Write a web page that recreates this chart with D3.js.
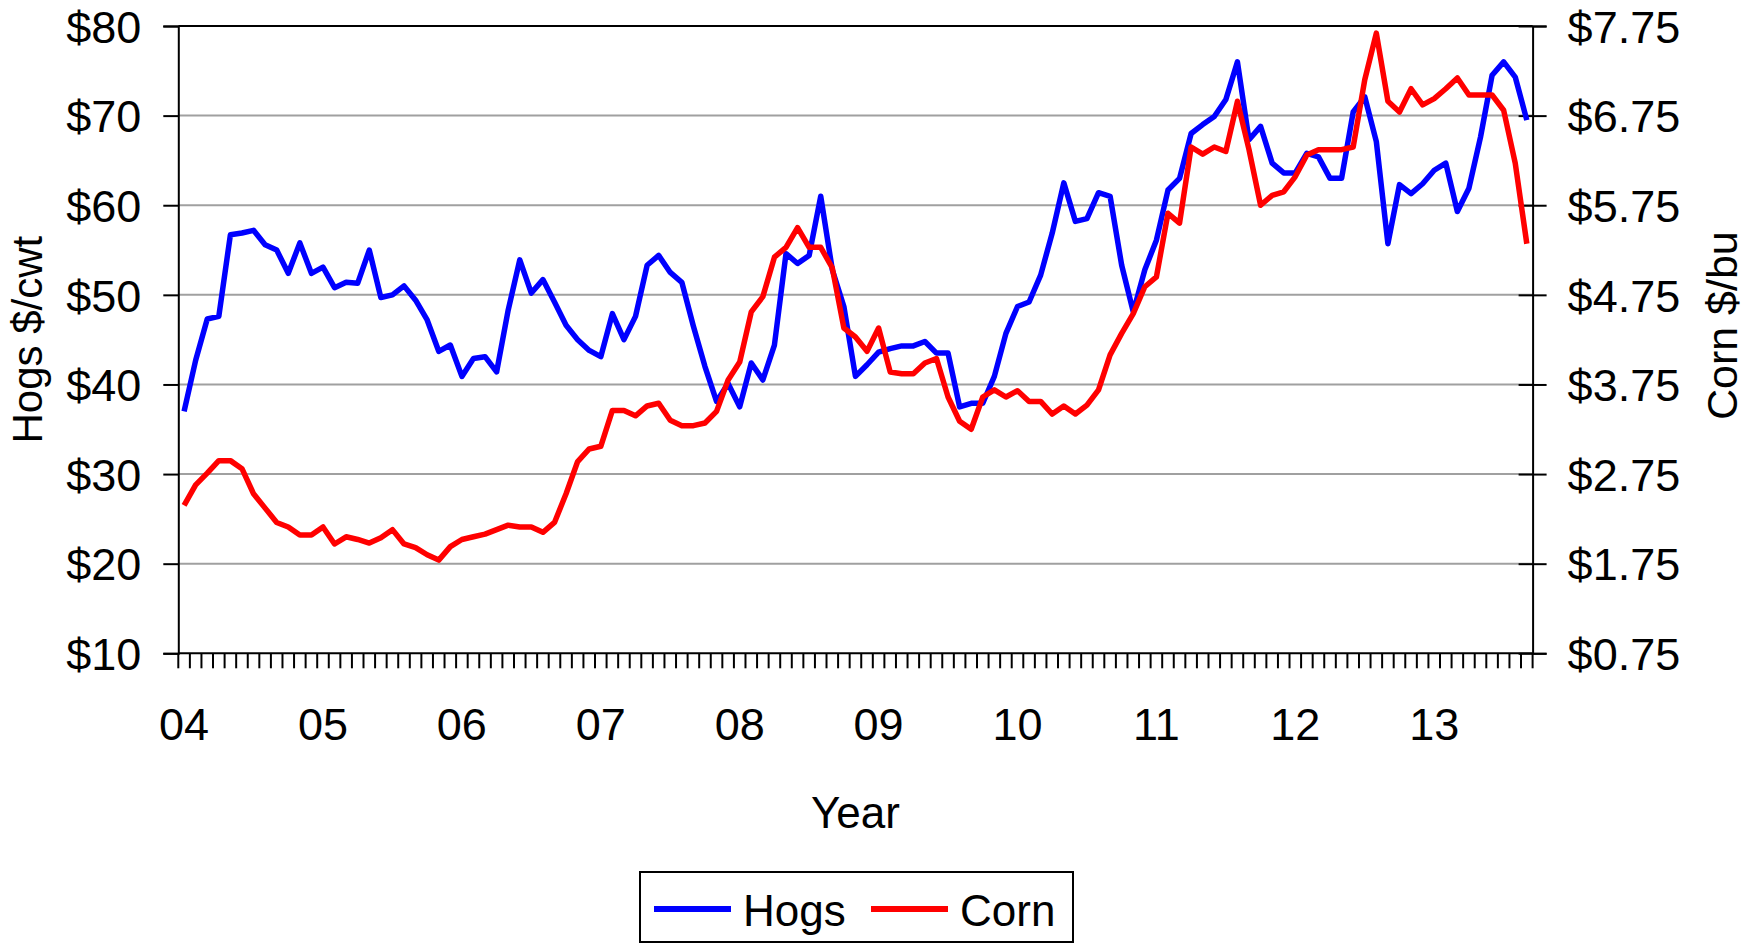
<!DOCTYPE html>
<html>
<head>
<meta charset="utf-8">
<script src="https://cdn.jsdelivr.net/npm/d3@7"></script>
<style>
  body { margin: 0; background: #fff; }
  svg text { font-family: "Liberation Sans", Arial, sans-serif; fill: #000; }
</style>
</head>
<body>
<svg id="chart" width="1758" height="944"></svg>
<script>
// monthly prices, Jan 2004 - Sep 2013
const hogs = [
  37.0, 42.7, 47.3, 47.6, 56.7, 56.9, 57.2, 55.6, 55.0, 52.4,
  55.8, 52.4, 53.1, 50.8, 51.4, 51.3, 55.0, 49.7, 50.0, 51.0,
  49.4, 47.2, 43.7, 44.4, 40.9, 42.9, 43.1, 41.4, 48.3, 53.9,
  50.2, 51.7, 49.2, 46.6, 45.0, 43.8, 43.1, 47.9, 45.0, 47.6,
  53.3, 54.4, 52.5, 51.4, 46.5, 42.0, 38.1, 40.1, 37.5, 42.4,
  40.5, 44.4, 54.6, 53.5, 54.4, 61.0, 52.8, 48.7, 40.9, 42.2,
  43.6, 44.0, 44.3, 44.3, 44.8, 43.5, 43.5, 37.5, 37.9, 37.9,
  40.9, 45.7, 48.7, 49.2, 52.2, 56.9, 62.5, 58.2, 58.5, 61.4,
  61.0, 53.3, 48.1, 52.8, 56.1, 61.7, 63.0, 68.0, 69.0, 69.9,
  71.8, 76.0, 67.3, 68.8, 64.7, 63.6, 63.6, 65.8, 65.4, 63.0,
  63.0, 70.4, 72.1, 67.1, 55.7, 62.3, 61.3, 62.4, 63.9, 64.7,
  59.3, 61.9, 67.6, 74.5, 76.0, 74.3, 69.5
];
const corn = [
  2.40, 2.63, 2.76, 2.90, 2.90, 2.81, 2.53, 2.37, 2.21, 2.16,
  2.07, 2.07, 2.16, 1.97, 2.05, 2.02, 1.98, 2.04, 2.13, 1.97,
  1.93, 1.85, 1.79, 1.94, 2.02, 2.05, 2.08, 2.13, 2.18, 2.16,
  2.16, 2.10, 2.21, 2.53, 2.89, 3.03, 3.06, 3.46, 3.46, 3.40,
  3.51, 3.54, 3.35, 3.29, 3.29, 3.32, 3.45, 3.80, 4.00, 4.56,
  4.73, 5.17, 5.28, 5.50, 5.28, 5.28, 5.05, 4.38, 4.28, 4.12,
  4.38, 3.89, 3.87, 3.87, 3.99, 4.04, 3.61, 3.34, 3.25, 3.61,
  3.69, 3.61, 3.68, 3.56, 3.56, 3.42, 3.51, 3.42, 3.52, 3.69,
  4.08, 4.32, 4.54, 4.84, 4.95, 5.66, 5.55, 6.40, 6.32, 6.40,
  6.35, 6.91, 6.37, 5.75, 5.86, 5.90, 6.07, 6.31, 6.37, 6.37,
  6.37, 6.40, 7.15, 7.67, 6.91, 6.79, 7.05, 6.87, 6.94, 7.05,
  7.17, 6.98, 6.98, 6.98, 6.81, 6.22, 5.32
];
const hogTicks = [10, 20, 30, 40, 50, 60, 70, 80];
const cornTicks = [0.75, 1.75, 2.75, 3.75, 4.75, 5.75, 6.75, 7.75];
const seriesNames = ['Hogs', 'Corn'];
const seriesColors = ['#0000ff', '#ff0000'];

const months = d3.timeMonth.range(new Date(2004, 0, 1), new Date(2013, 9, 1));

const margin = { top: 26, right: 225.4, bottom: 290.7, left: 178.3 };
const W = 1758, H = 944;
const plotW = W - margin.left - margin.right;
const plotH = H - margin.top - margin.bottom;

const svg = d3.select('#chart');
const g = svg.append('g').attr('transform', `translate(${margin.left},${margin.top})`);

const x = d3.scaleBand().domain(months).range([0, plotW]).paddingInner(0).paddingOuter(0);
const yL = d3.scaleLinear().domain([10, 80]).range([plotH, 0]);
const yR = d3.scaleLinear().domain([0.75, 7.75]).range([plotH, 0]);
const cx = d => x(d) + x.bandwidth() / 2;

// gridlines
g.selectAll('.grid').data(hogTicks.slice(1, -1)).enter().append('line')
  .attr('x1', 0).attr('x2', plotW)
  .attr('y1', d => yL(d)).attr('y2', d => yL(d))
  .attr('stroke', '#a0a0a0').attr('stroke-width', 2);

// frame
g.append('line').attr('x1', 0).attr('x2', plotW).attr('y1', 0).attr('y2', 0)
  .attr('stroke', '#000').attr('stroke-width', 2);

// left axis
const leftAxis = g.append('g')
  .call(d3.axisLeft(yL).tickValues(hogTicks).tickSize(15).tickPadding(22).tickFormat(d => '$' + d));
// right axis
const rightAxis = g.append('g').attr('transform', `translate(${plotW},0)`)
  .call(d3.axisRight(yR).tickValues(cornTicks).tickSize(14).tickPadding(21).tickFormat(d => '$' + d.toFixed(2)));
rightAxis.selectAll('.tick line').attr('x1', -14);

[leftAxis, rightAxis].forEach(ax => {
  ax.select('.domain').attr('stroke', '#000').attr('stroke-width', 2);
  ax.selectAll('.tick line').attr('stroke', '#000').attr('stroke-width', 2);
  ax.selectAll('.tick text').attr('font-size', 45).attr('dy', '0.36em');
});

// bottom axis: a tick between every month
const xAxis = g.append('g').attr('transform', `translate(0,${plotH})`);
xAxis.append('line').attr('x1', 0).attr('x2', plotW).attr('stroke', '#000').attr('stroke-width', 2);
xAxis.selectAll('.mtick').data(months.concat([null])).enter().append('line')
  .attr('x1', (d, i) => i < months.length ? x(d) : plotW)
  .attr('x2', (d, i) => i < months.length ? x(d) : plotW)
  .attr('y1', 0).attr('y2', 15)
  .attr('stroke', '#000').attr('stroke-width', 2);
xAxis.selectAll('.ylab').data(months.filter(d => d.getMonth() === 0)).enter().append('text')
  .attr('x', cx).attr('y', 87)
  .attr('text-anchor', 'middle').attr('font-size', 45)
  .text(d3.timeFormat('%y'));

// axis titles
svg.append('text')
  .attr('transform', `translate(27,${margin.top + plotH / 2}) rotate(-90)`)
  .attr('text-anchor', 'middle').attr('dy', '0.36em').attr('font-size', 42)
  .text('Hogs $/cwt');
svg.append('text')
  .attr('transform', `translate(1722,${margin.top + plotH / 2 - 14}) rotate(-90)`)
  .attr('text-anchor', 'middle').attr('dy', '0.36em').attr('font-size', 43)
  .text('Corn $/bu');
svg.append('text')
  .attr('x', margin.left + plotW / 2).attr('y', 828)
  .attr('text-anchor', 'middle').attr('font-size', 44)
  .text('Year');

// series
const line = yScale => d3.line()
  .x((d, i) => cx(months[i]))
  .y(d => yScale(d));

g.append('path').datum(hogs)
  .attr('fill', 'none').attr('stroke', seriesColors[0]).attr('stroke-width', 5.5)
  .attr('stroke-linejoin', 'round')
  .attr('d', line(yL));
g.append('path').datum(corn)
  .attr('fill', 'none').attr('stroke', seriesColors[1]).attr('stroke-width', 5.5)
  .attr('stroke-linejoin', 'round')
  .attr('d', line(yR));

// legend
const legend = svg.append('g').attr('transform', 'translate(640,872)');
legend.append('rect').attr('width', 433).attr('height', 70)
  .attr('fill', '#fff').attr('stroke', '#000').attr('stroke-width', 2);
const items = legend.selectAll('.item').data(seriesNames).enter().append('g')
  .attr('transform', (d, i) => `translate(${14 + i * 217},37)`);
items.append('line').attr('x1', 0).attr('x2', 77).attr('y1', 0).attr('y2', 0)
  .attr('stroke', (d, i) => seriesColors[i]).attr('stroke-width', 6);
items.append('text').attr('x', 89).attr('y', 17).attr('font-size', 44).text(d => d);
</script>
</body>
</html>
